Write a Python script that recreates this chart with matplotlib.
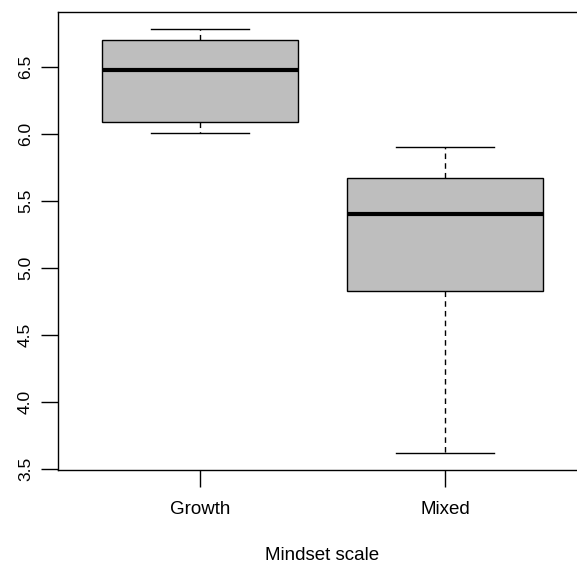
import matplotlib
matplotlib.use("Agg")
import matplotlib.pyplot as plt

groups = ["Growth", "Mixed"]
whis_lo = [6.01, 3.62]
q1 = [6.09, 4.83]
medians = [6.48, 5.40]
q3 = [6.70, 5.67]
whis_hi = [6.78, 5.90]

plt.rcParams["font.family"] = ["Liberation Sans", "DejaVu Sans"]

fig = plt.figure(figsize=(5.77, 5.63), dpi=100)
# R style plot region; right side runs past the figure edge like the original
ax = fig.add_axes([58 / 577, 93 / 563, 529 / 577, 458 / 563])

stats = []
for i, g in enumerate(groups):
    stats.append({"label": g, "whislo": whis_lo[i], "q1": q1[i], "med": medians[i],
                  "q3": q3[i], "whishi": whis_hi[i], "fliers": []})

ax.bxp(stats, positions=[1, 2], widths=0.8, patch_artist=True, showfliers=False,
       boxprops=dict(facecolor="#bebebe", edgecolor="black", linewidth=1),
       medianprops=dict(color="black", linewidth=3, solid_capstyle="butt"),
       whiskerprops=dict(color="black", linewidth=1, linestyle=(0, (4, 3))),
       capprops=dict(color="black", linewidth=1), capwidths=0.4)

ax.set_xlim(0.42, 2.58)
ax.set_ylim(3.49, 6.91)
ax.set_yticks([3.5, 4.0, 4.5, 5.0, 5.5, 6.0, 6.5])
ax.set_yticklabels(["3.5", "4.0", "4.5", "5.0", "5.5", "6.0", "6.5"], rotation=90, va="center")
ax.set_xticks([1, 2])
ax.set_xticklabels(groups)
ax.tick_params(axis="both", length=12, width=1, color="black", direction="out")
ax.tick_params(axis="y", labelsize=12.5, pad=6)
ax.tick_params(axis="x", labelsize=13.5, pad=10)
ax.set_xlabel("Mindset scale", fontsize=13.5, labelpad=21)
for s in ax.spines.values():
    s.set_linewidth(1)
    s.set_color("black")

fig.savefig("out.png", dpi=100)
